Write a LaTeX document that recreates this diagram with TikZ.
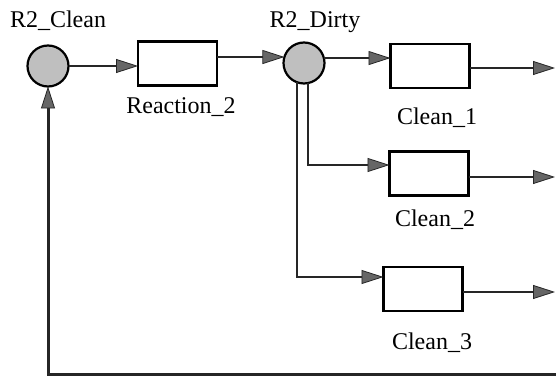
\documentclass[tikz,border=0pt]{standalone}
\usepackage{fontspec}
\setmainfont{Liberation Serif}
\usetikzlibrary{arrows.meta}
\begin{document}
\begin{tikzpicture}[x=1pt,y=-1pt,
  proc/.style={draw=black, line width=2.2pt, fill=white, minimum width=79pt, minimum height=44pt, inner sep=0pt, outer sep=0pt},
  store/.style={circle, draw=black, line width=2.2pt, fill=gray!50, minimum size=41pt, inner sep=0pt, outer sep=0pt},
  lbl/.style={anchor=base, inner sep=0pt, font=\fontsize{24}{27}\selectfont},
  arr/.style={line width=2.2pt, draw=black!85, -{Triangle[length=22pt,width=14pt,fill=black!60,line width=0.8pt]}},
  fbl/.style={line width=3pt}
]
\useasboundingbox (0,0) rectangle (556,379);

\node[store] (c1) at (48,66) {};
\node[store] (c2) at (304,63) {};
\node[proc] (r2) at (177.5,63.5) {};
\node[proc] (k1) at (430,66) {};
\node[proc] (k2) at (429,173.5) {};
\node[proc] (k3) at (423,289) {};

\node[lbl] (t1) at (58,28) {R2\_Clean};
\node[lbl] (t2) at (315,28) {R2\_Dirty};
\node[lbl] (t3) at (181,114) {Reaction\_2};
\node[lbl] (t4) at (437,125) {Clean\_1};
\node[lbl] (t5) at (435,226) {Clean\_2};
\node[lbl] (t6) at (432,349) {Clean\_3};

\coordinate (o1) at (555,68);
\coordinate (o2) at (555,177);
\coordinate (o3) at (555,292);
\coordinate (fb) at (556,374);

\draw[arr] (c1.east) -- (c1.east -| r2.west);
\draw[arr] (r2.east |- c2.163) -- (c2.163);
\draw[arr] (c2.14) -- (c2.14 -| k1.west);
\draw[arr] (k1.east |- o1) -- (o1);
\draw[arr] (c2.-78) |- ([yshift=8.5pt]k2.west);
\draw[arr] (k2.east |- o2) -- (o2);
\draw[arr] (c2.-110) |- ([yshift=12pt]k3.west);
\draw[arr] (k3.east |- o3) -- (o3);
\draw[arr,fbl] (fb) -| (c1.south);
\end{tikzpicture}
\end{document}
